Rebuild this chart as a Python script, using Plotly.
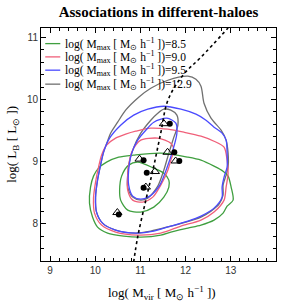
import plotly.graph_objects as go

# ---------------- data ----------------
mmax_labels = ["8.5", "9.0", "9.5", "12.9"]
colors = ["#3f9f3f", "#f0607a", "#4a4aff", "#707070"]

# outer (wide) contours
gray_outer_x = [12.051, 12.229, 12.340, 12.407, 12.562, 12.785, 12.896, 12.940, 12.940, 12.896, 12.829, 12.829, 12.740, 12.562, 12.340, 12.007, 11.673, 11.229, 10.896, 10.451, 10.162, 10.029, 10.007, 10.051, 10.118, 10.185, 10.296, 10.340, 10.496, 10.673, 10.962, 11.229, 11.607, 12.051]
gray_outer_y = [10.374, 10.325, 10.213, 9.939, 9.698, 9.505, 9.345, 9.136, 8.910, 8.782, 8.621, 8.460, 8.316, 8.203, 8.107, 8.026, 7.962, 7.881, 7.849, 7.897, 8.010, 8.187, 8.428, 8.701, 8.943, 9.152, 9.377, 9.457, 9.634, 9.827, 10.036, 10.181, 10.309, 10.374]

blue_outer_x = [11.518, 11.896, 12.229, 12.451, 12.629, 12.807, 12.896, 12.918, 12.918, 12.851, 12.807, 12.807, 12.629, 12.340, 12.051, 11.673, 11.296, 10.896, 10.451, 10.162, 10.029, 10.007, 10.051, 10.118, 10.185, 10.318, 10.562, 10.851, 11.162, 11.518]
blue_outer_y = [9.891, 9.843, 9.763, 9.666, 9.554, 9.457, 9.345, 9.136, 8.910, 8.750, 8.589, 8.428, 8.251, 8.123, 8.042, 7.962, 7.881, 7.849, 7.897, 8.010, 8.187, 8.428, 8.701, 8.943, 9.152, 9.377, 9.586, 9.747, 9.843, 9.891]

red_outer_x = [11.229, 11.607, 11.962, 12.340, 12.629, 12.851, 12.918, 12.940, 12.896, 12.851, 12.629, 12.340, 11.896, 11.451, 10.940, 10.451, 10.140, 9.984, 9.962, 10.007, 10.073, 10.140, 10.251, 10.451, 10.673, 10.896, 11.229]
red_outer_y = [9.538, 9.521, 9.473, 9.409, 9.328, 9.232, 9.023, 8.814, 8.589, 8.380, 8.187, 8.058, 7.962, 7.849, 7.817, 7.865, 7.978, 8.171, 8.412, 8.669, 8.910, 9.104, 9.264, 9.377, 9.441, 9.489, 9.538]

green_outer_x = [10.851, 11.451, 12.051, 12.340, 12.629, 12.829, 12.940, 13.007, 13.051, 12.918, 12.829, 12.629, 12.340, 12.051, 11.673, 11.451, 11.007, 10.629, 10.273, 10.051, 9.940, 9.873, 9.896, 9.962, 10.073, 10.251, 10.518, 10.851]
green_outer_y = [9.104, 9.136, 9.071, 9.023, 8.927, 8.846, 8.766, 8.589, 8.380, 8.283, 8.171, 8.058, 7.978, 7.930, 7.865, 7.817, 7.785, 7.801, 7.849, 7.946, 8.107, 8.332, 8.589, 8.766, 8.894, 8.991, 9.071, 9.104]

# inner (narrow) contours
gray_inner_x = [11.518, 11.673, 11.807, 11.829, 11.740, 11.629, 11.518, 11.384, 11.162, 11.007, 10.829, 10.718, 10.718, 10.740, 10.829, 11.007, 11.229, 11.384, 11.518]
gray_inner_y = [9.843, 9.827, 9.747, 9.586, 9.393, 9.136, 8.862, 8.605, 8.412, 8.380, 8.428, 8.589, 8.782, 8.943, 9.184, 9.457, 9.666, 9.779, 9.843]

blue_inner_x = [11.296, 11.584, 11.784, 11.807, 11.718, 11.584, 11.429, 11.207, 11.007, 10.829, 10.740, 10.740, 10.807, 10.940, 11.118, 11.296]
blue_inner_y = [9.634, 9.698, 9.618, 9.457, 9.184, 8.894, 8.621, 8.444, 8.396, 8.444, 8.621, 8.862, 9.136, 9.345, 9.505, 9.634]

red_inner_x = [11.007, 11.384, 11.673, 11.740, 11.673, 11.607, 11.473, 11.273, 11.051, 10.829, 10.718, 10.718, 10.740, 10.807, 10.896, 11.007]
red_inner_y = [9.345, 9.377, 9.296, 9.184, 9.023, 8.862, 8.653, 8.428, 8.348, 8.380, 8.541, 8.782, 8.943, 9.152, 9.264, 9.345]

green_inner_x = [10.740, 10.940, 11.296, 11.518, 11.629, 11.629, 11.518, 11.296, 11.007, 10.718, 10.562, 10.540, 10.584, 10.740]
green_inner_y = [8.943, 8.991, 8.894, 8.814, 8.701, 8.589, 8.428, 8.267, 8.187, 8.219, 8.380, 8.541, 8.766, 8.943]

# relation (dotted curve)
rel_x = [10.85, 10.94, 11.12, 11.29, 11.45, 11.61, 11.94, 12.34, 12.94]
rel_y = [7.38, 7.79, 8.38, 8.91, 9.46, 9.99, 10.39, 10.68, 11.15]

# points
dots_x = [11.65, 11.75, 11.86, 11.07, 11.14, 11.07, 10.52]
dots_y = [9.61, 9.15, 9.01, 9.02, 8.82, 8.58, 8.15]
tri_x = [11.52, 11.60, 11.78, 10.98, 11.32, 11.12, 10.49]
tri_y = [9.61, 9.15, 9.01, 9.04, 8.84, 8.59, 8.18]

x_ticks = [9, 10, 11, 12, 13]
y_ticks = [8, 9, 10, 11]

# ---------------- figure ----------------
fig = go.Figure()
LW = 1.3
contours = [
    (gray_outer_x, gray_outer_y, colors[3]),
    (gray_inner_x, gray_inner_y, colors[3]),
    (green_outer_x, green_outer_y, colors[0]),
    (green_inner_x, green_inner_y, colors[0]),
    (red_outer_x, red_outer_y, colors[1]),
    (red_inner_x, red_inner_y, colors[1]),
    (blue_outer_x, blue_outer_y, colors[2]),
    (blue_inner_x, blue_inner_y, colors[2]),
]
for cx, cy, col in contours:
    fig.add_trace(go.Scatter(x=cx, y=cy, mode="lines",
                             line=dict(color=col, width=LW, shape="spline", smoothing=0.8),
                             showlegend=False, hoverinfo="skip"))

fig.add_trace(go.Scatter(x=rel_x, y=rel_y, mode="lines",
                         line=dict(color="black", width=1.6, dash="dot", shape="spline"),
                         showlegend=False))
fig.add_trace(go.Scatter(x=tri_x, y=tri_y, mode="markers",
                         marker=dict(symbol="triangle-up-open", size=8, color="black", line=dict(width=1)),
                         showlegend=False))
fig.add_trace(go.Scatter(x=dots_x, y=dots_y, mode="markers",
                         marker=dict(symbol="circle", size=6, color="black"),
                         showlegend=False))

# legend (lines + labels)
leg_y = [0.933, 0.876, 0.819, 0.759]
for lab, col, yy in zip(mmax_labels, colors, leg_y):
    fig.add_shape(type="line", xref="paper", yref="paper", x0=0.018, x1=0.082, y0=yy, y1=yy,
                  line=dict(color=col, width=1.3))
    fig.add_annotation(xref="paper", yref="paper", x=0.093, y=yy, xanchor="left", yanchor="middle",
                       showarrow=False,
                       text="log( M<sub>max</sub> [ M<sub>⊙</sub> h<sup>−1</sup> ])=" + lab,
                       font=dict(family="Liberation Serif", size=11.5, color="black"))

# axis titles
fig.add_annotation(xref="paper", yref="paper", x=0.514, y=-0.137, xanchor="center", yanchor="middle",
                   showarrow=False,
                   text="log( M<sub>vir</sub> [ M<sub>⊙</sub> h<sup>−1</sup> ])",
                   font=dict(family="Liberation Serif", size=13, color="black"))
fig.add_annotation(xref="paper", yref="paper", x=-0.122, y=0.5, xanchor="center", yanchor="middle",
                   showarrow=False, textangle=-90,
                   text="log( L<sub>B</sub> [ L<sub>⊙</sub> ])",
                   font=dict(family="Liberation Serif", size=13, color="black"))

axis_common = dict(showgrid=False, zeroline=False, showline=True, linecolor="black", linewidth=1,
                   mirror="allticks", ticks="inside", ticklen=5, tickwidth=1, tickcolor="black",
                   tickfont=dict(family="Liberation Sans", size=10, color="#333"),
                   minor=dict(ticks="inside", ticklen=3, tickwidth=1, tickcolor="black", dtick=0.2, showgrid=False))

fig.update_xaxes(range=[8.8, 14.0], tickvals=x_ticks, **axis_common)
fig.update_yaxes(range=[7.4, 11.15], tickvals=y_ticks, **axis_common)

fig.update_layout(
    width=282, height=304,
    margin=dict(l=41, r=6, t=28, b=43),
    paper_bgcolor="white", plot_bgcolor="white",
    title=dict(text="<b>Associations in different-haloes</b>", x=0.5, xref="paper",
               y=0.962, yref="container", yanchor="middle",
               font=dict(family="Liberation Serif", size=15, color="black")),
    showlegend=False,
)

fig.write_html("out.html", config={"displayModeBar": False},
               post_script="document.body.style.margin='0px';document.body.style.overflow='hidden';")
